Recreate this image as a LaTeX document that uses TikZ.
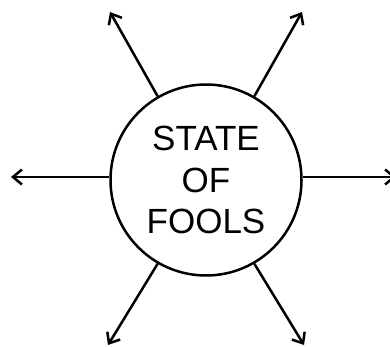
\documentclass[tikz,border=0pt]{standalone}
\usepackage{fontspec}
\setmainfont{Liberation Sans}
\usetikzlibrary{arrows.meta, positioning, calc}

\begin{document}
\begin{tikzpicture}[x=1pt, y=-1pt, line width=2.5pt,
		ray/.style={-{Straight Barb[length=9pt,width=15pt]}}]
				\useasboundingbox (0,0) rectangle (390,347);
				\node[circle, draw, minimum size=191pt, inner sep=0pt, align=center,
					font=\fontsize{35}{41.5}\selectfont] (fools) at (206,180) {STATE\\OF\\FOOLS};
				\coordinate (upleft) at (110,12);
				\coordinate (upright) at (302,12);
				\coordinate (lowleft) at (108,345);
				\coordinate (lowright) at (304,345);
				\coordinate (lft) at (11,177);
				\coordinate (rgt) at (396,177);
				\draw[ray] (fools.120) -- (upleft);
				\draw[ray] (fools.60) -- (upright);
				\draw[ray] (fools.240) -- (lowleft);
				\draw[ray] (fools.300) -- (lowright);
				\draw[ray] (fools.west |- lft) -- (lft);
				\draw[ray] (fools.east |- rgt) -- (rgt);
			\end{tikzpicture}
\end{document}
